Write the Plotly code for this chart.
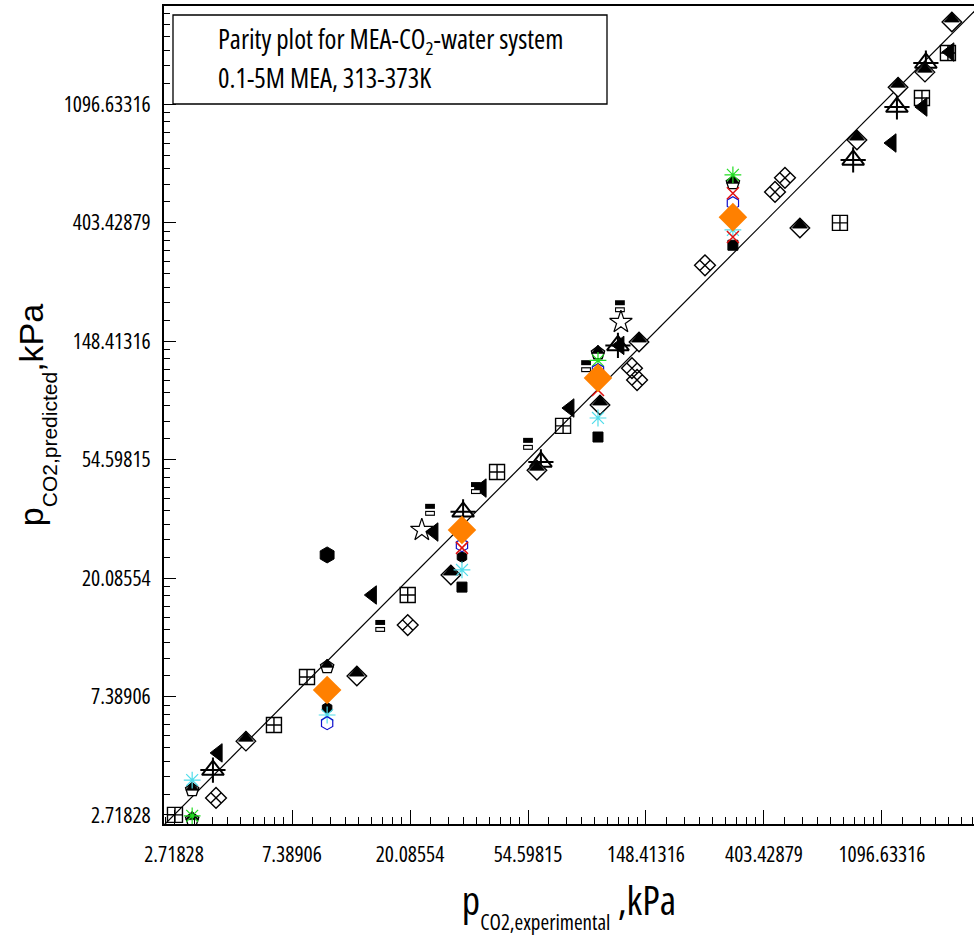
import math
import plotly.graph_objects as go

# ---------------- data (kPa) ----------------
TICK_LABELS = ["2.71828", "7.38906", "20.08554", "54.59815",
               "148.41316", "403.42879", "1096.63316"]

PARITY = [2.4, 2800]

HD_X = [5.00, 12.8, 28.4, 58.9, 100.5, 139.9, 547, 887, 1257, 1579, 1983]
HD_Y = [5.07, 8.78, 20.6, 49.9, 86.5, 147.2, 385, 809, 1264, 1435, 2192]
TL_X = [3.95, 14.6, 24.6, 37.0, 77.9, 119, 1194, 1552, 1950]
TL_Y = [4.59, 17.4, 29.6, 42.9, 84.3, 143, 789, 1069, 1700]
SC_X = [2.74, 6.34, 8.39, 19.7, 42.0, 73.5, 768, 1539, 1918]
SC_Y = [2.72, 5.81, 8.71, 17.4, 49.1, 72.5, 402, 1153, 1686]
TC_X = [3.78, 31.5, 60.9, 117, 859, 1245, 1591]
TC_Y = [3.97, 35.1, 53.5, 143, 684, 1069, 1550]
XD_X = [3.88, 19.7, 131.8, 137.6, 244.7, 443, 482]
XD_Y = [3.14, 13.5, 118, 106.8, 281, 522, 588]
EQ_X = [15.6, 23.8, 35.1, 54.6, 89.3, 119]
EQ_Y = [13.4, 35.7, 42.9, 62.3, 120, 199]
ST_X = [22.2, 120]
ST_Y = [30.1, 174]
HX_X = [9.95]
HX_Y = [24.4]
HP_X = [3.17, 3.17, 9.95, 98.8, 310]
HP_Y = [2.62, 3.36, 9.48, 134, 563]
BS_X = [31.2, 98.8, 310]
BS_Y = [18.6, 66.0, 333]
BK_X = [9.95, 31.2]
BK_Y = [6.71, 24.0]
CA_X = [3.17, 9.95, 31.2, 98.8, 310]
CA_Y = [3.65, 6.32, 21.5, 77.5, 379]
GA_X = [3.17, 98.8, 310]
GA_Y = [2.70, 126, 603]
BH_X = [9.95, 31.2, 98.8, 310]
BH_Y = [5.90, 26.5, 116, 475]
RX_X = [31.2, 98.8, 310, 310]
RX_Y = [25.9, 98.1, 516, 357]
OD_X = [9.95, 31.2, 98.8, 310]
OD_Y = [7.81, 30.1, 108.7, 422]

W, H = 974, 942
ML, MR, MT, MB = 164, 0, 6, 118
PW, PH = W - ML - MR, H - MT - MB
XR_LN = [0.915, 7.78]
YR_LN = [0.924, 7.827]
PX_PER_LN_Y = PH / (YR_LN[1] - YR_LN[0])


def shift(vals, px):
    f = math.exp(px / PX_PER_LN_Y)
    return [v * f for v in vals]


FONT = "Open Sans"
BLK = "black"
fig = go.Figure()
fig.add_trace(go.Scatter(x=PARITY, y=PARITY, mode="lines",
                         line=dict(color=BLK, width=1.2), hoverinfo="skip"))


def mk(x, y, symbol, size, color="black", lw=1.5, lc="black"):
    fig.add_trace(go.Scatter(x=x, y=y, mode="markers",
                             marker=dict(symbol=symbol, size=size, color=color,
                                         line=dict(color=lc, width=lw))))


mk(XD_X, XD_Y, "diamond-x-open", 16, lw=1.4)
mk(SC_X, SC_Y, "square-cross-open", 15, lw=1.4)
mk(TC_X, TC_Y, "triangle-up-open", 19, lw=2)
mk(TC_X, TC_Y, "cross-thin-open", 18, lw=2)
mk(HD_X, HD_Y, "diamond", 15, color="white", lw=1.4)
mk(HD_X, shift(HD_Y, 3.2), "triangle-up", 13, color=BLK, lw=0.8)
mk(HP_X, HP_Y, "pentagon", 14, color="white", lw=1.3)
mk(HP_X, shift(HP_Y, 2.5), "triangle-up", 11, color=BLK, lw=0.8)
mk(TL_X, TL_Y, "triangle-left", 16, color=BLK, lw=1)
mk(EQ_X, shift(EQ_Y, 3.5), "line-ew-open", 7, lw=5)
mk(EQ_X, shift(EQ_Y, -3.5), "line-ew-open", 7, lw=5)
mk(EQ_X, shift(EQ_Y, -3.5), "line-ew-open", 5.5, color="white", lw=2.6)
mk(ST_X, ST_Y, "star-open", 17, lw=1.2)
mk(HX_X, HX_Y, "hexagon", 16, color=BLK, lw=1)
mk(BS_X, BS_Y, "square", 10, color=BLK, lw=1)
mk(BK_X, BK_Y, "hexagon", 11, color=BLK, lw=1)
mk(CA_X, CA_Y, "asterisk-open", 14, color="#50dcea", lw=1.2)
mk(GA_X, GA_Y, "asterisk-open", 14, color="#22dd22", lw=1.2)
mk(BH_X, BH_Y, "hexagon-open", 13, color="#1010cc", lw=1.2)
mk(RX_X, RX_Y, "x-thin-open", 12, color="#e01010", lw=1.5)
mk(OD_X, OD_Y, "diamond", 22, color="#ff8000", lw=0)

MAJOR = [float(s) for s in TICK_LABELS]


def minor_ticks(major):
    vals = []
    edges = [major[0] / math.e] + major + [major[-1] * math.e]
    for a, b in zip(edges[:-1], edges[1:]):
        step = (b - a) / 9.0
        vals += [a + j * step for j in range(1, 9)]
    return vals


MINOR = minor_ticks(MAJOR)


def cond(s, extra=""):
    return '<span style="font-stretch:condensed;%s">%s</span>' % (extra, s)


common = dict(type="log", tickmode="array", tickvals=MAJOR,
              ticktext=[cond(s) for s in TICK_LABELS],
              tickfont=dict(family=FONT, size=21.5, color=BLK),
              ticks="inside", tickcolor=BLK, showgrid=False, zeroline=False,
              showline=True, linecolor=BLK, linewidth=2)

fig.update_xaxes(**common, ticklen=14, tickwidth=1.3, mirror=True,
                 range=[XR_LN[0] / math.log(10), XR_LN[1] / math.log(10)],
                 ticklabelstandoff=10,
                 minor=dict(tickmode="array", tickvals=MINOR, ticks="inside",
                            ticklen=7, tickwidth=1, tickcolor=BLK, showgrid=False),
                 title=dict(text=cond("p") + "<sub>"
                            + cond("CO2,experimental", "font-size:21px;baseline-shift:-7px")
                            + "</sub>" + cond(" ,kPa"),
                            font=dict(family=FONT, size=40, color=BLK), standoff=20))
fig.update_yaxes(**common, ticklen=12, tickwidth=1.3,
                 range=[YR_LN[0] / math.log(10), YR_LN[1] / math.log(10)],
                 ticklabelstandoff=7,
                 minor=dict(tickmode="array", tickvals=MINOR, ticks="inside",
                            ticklen=6, tickwidth=1, tickcolor=BLK, showgrid=False),
                 title=dict(text='p<sub><span style="font-size:21px;baseline-shift:-7px">'
                                 'CO2,predicted</span></sub>,kPa',
                            font=dict(family="Liberation Sans", size=34, color=BLK),
                            standoff=10))


def px_x(p):
    return (p - ML) / PW


def px_y(p):
    return (H - MB - p) / PH


fig.add_shape(type="rect", xref="paper", yref="paper",
              x0=px_x(173), x1=px_x(607), y0=px_y(104), y1=px_y(15),
              line=dict(color=BLK, width=1.3), fillcolor="white", layer="above")
fig.add_annotation(xref="paper", yref="paper", x=px_x(216), y=px_y(41),
                   xanchor="left", yanchor="middle", showarrow=False,
                   text=cond("Parity plot for MEA-CO") + "<sub>" + cond("2") + "</sub>"
                   + cond("-water system"),
                   font=dict(family=FONT, size=27, color=BLK))
fig.add_annotation(xref="paper", yref="paper", x=px_x(216), y=px_y(78),
                   xanchor="left", yanchor="middle", showarrow=False,
                   text=cond("0.1-5M MEA, 313-373K"),
                   font=dict(family=FONT, size=27, color=BLK))

fig.update_layout(width=W, height=H, autosize=False,
                  margin=dict(l=ML, r=MR, t=MT, b=MB, autoexpand=False),
                  paper_bgcolor="white", plot_bgcolor="white",
                  showlegend=False, font=dict(family=FONT, color=BLK))

fig.write_html("out.html", config={"displayModeBar": False})
